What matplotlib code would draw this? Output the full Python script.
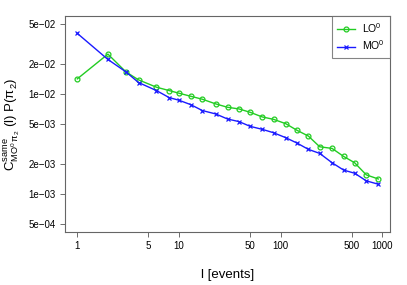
import matplotlib
matplotlib.use("Agg")
import matplotlib.pyplot as plt

plt.rcParams['font.family'] = ['Liberation Sans', 'DejaVu Sans']
plt.rcParams['mathtext.fontset'] = 'custom'
plt.rcParams['mathtext.rm'] = 'Liberation Sans'
plt.rcParams['mathtext.it'] = 'Liberation Sans'
plt.rcParams['mathtext.bf'] = 'Liberation Sans:bold'

# event counts (bin centres)
l_events = [1, 2, 3, 4, 6, 8, 10, 13, 17, 23, 30, 39, 50, 66, 85, 112,
            145, 187, 242, 320, 416, 533, 695, 912]

lo_vals = [0.01414, 0.0250, 0.01663, 0.01382, 0.01167, 0.0108, 0.01016,
           0.00948, 0.00884, 0.00794, 0.00735, 0.00707, 0.00655, 0.00588,
           0.00557, 0.00504, 0.00432, 0.00379, 0.00296, 0.00285, 0.00237,
           0.00205, 0.00155, 0.00141]

mo_vals = [0.0403, 0.0221, 0.01663, 0.0130, 0.0108, 0.00919, 0.00864,
           0.00782, 0.00681, 0.00630, 0.00561, 0.00528, 0.00474, 0.00442,
           0.00409, 0.00365, 0.00322, 0.00279, 0.00254, 0.00205, 0.00173,
           0.00161, 0.00135, 0.00125]

x_ticks = [1, 5, 10, 50, 100, 500, 1000]
y_ticks = [5e-4, 1e-3, 2e-3, 5e-3, 1e-2, 2e-2, 5e-2]
y_labels = ["5e\u221204", "1e\u221203", "2e\u221203", "5e\u221203",
            "1e\u221202", "2e\u221202", "5e\u221202"]

fig = plt.figure(figsize=(4.07, 2.85), dpi=100)
ax = fig.add_axes([65 / 407, 53 / 285, 325 / 407, 216 / 285])

ax.plot(l_events, lo_vals, color='#22cc22', lw=1.0, marker='o', ms=3.5,
        mfc='none', mew=0.9, label='LO$^0$')
ax.plot(l_events, mo_vals, color='#1a1aff', lw=1.0, marker='x', ms=3.5,
        mew=0.9, label='MO$^0$')

ax.set_xscale('log')
ax.set_yscale('log')
ax.set_xlim(10 ** -0.121, 10 ** 3.075)
ax.set_ylim(10 ** -3.381, 10 ** -1.221)
ax.minorticks_off()
ax.set_xticks(x_ticks)
ax.set_xticklabels([str(v) for v in x_ticks])
ax.set_yticks(y_ticks)
ax.set_yticklabels(y_labels)
ax.tick_params(labelsize=7, length=3.6, width=0.6, color='#555555', pad=3)

for s in ax.spines.values():
    s.set_color('#666666')
    s.set_linewidth(0.8)

ax.set_xlabel('l [events]', fontsize=9.5)
ax.xaxis.set_label_coords(0.5, -0.17)
ax.set_ylabel(r'$\mathrm{C}^{\mathrm{same}}_{\mathrm{MO}^0\,\pi_2}\ \mathrm{(l)\ P(\pi_2)}$',
              fontsize=9.5)
ax.yaxis.set_label_coords(-0.13, 0.5)

leg = ax.legend(loc='upper right', fontsize=7.5, frameon=True, fancybox=False,
                borderaxespad=0, handlelength=1.7, borderpad=0.5,
                labelspacing=0.35, handletextpad=0.7)
leg.get_frame().set_edgecolor('#666666')
leg.get_frame().set_linewidth(0.8)

fig.savefig('out.png', dpi=100)
